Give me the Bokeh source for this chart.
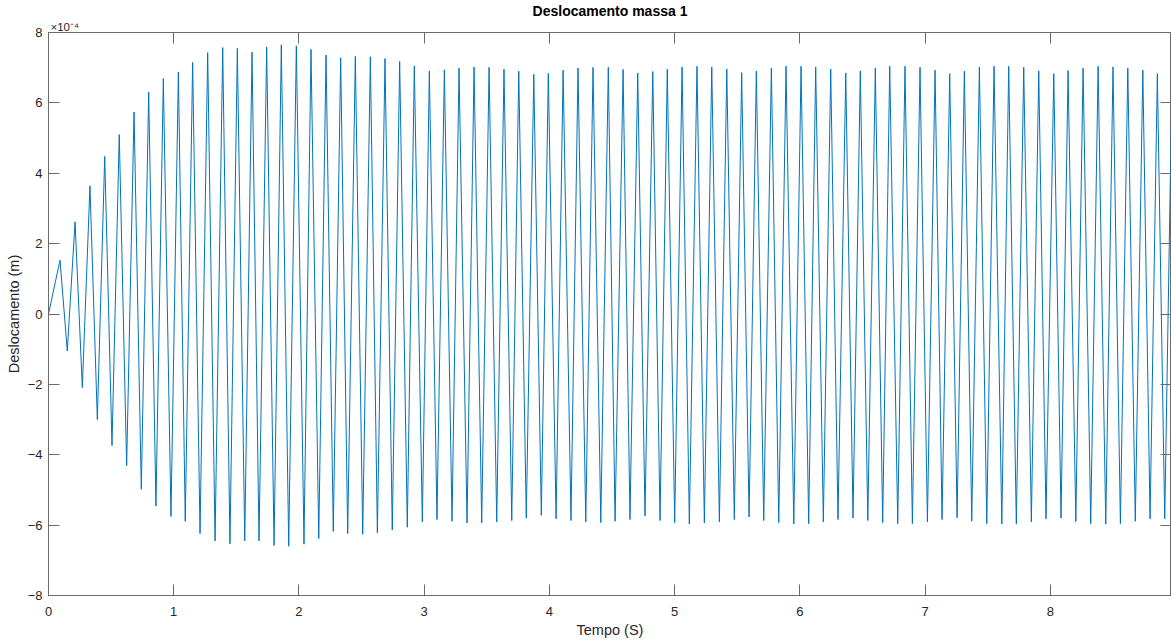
import numpy as np
from bokeh.plotting import figure
from bokeh.models import Range1d, LinearAxis, FixedTicker, ColumnDataSource, Title
from bokeh.embed import file_html
from bokeh.resources import INLINE

# ---------------- data (displacement in units of 1e-4 m) ----------------
title_text = "Deslocamento massa 1"
x_label = "Tempo (S)"
y_label = "Deslocamento (m)"
x_ticks = [0, 1, 2, 3, 4, 5, 6, 7, 8]
y_ticks = [-8, -6, -4, -2, 0, 2, 4, 6, 8]
y_scale_text = "\u00d710\u207b\u2074"   # x10^-4

start_t = [0.0]
start_v = [0.0]

peak_t = [0.092, 0.212, 0.331, 0.449, 0.565, 0.683, 0.800, 0.917, 1.037, 1.151,
          1.271, 1.391, 1.508, 1.625, 1.742, 1.859, 1.979, 2.096, 2.216, 2.333,
          2.450, 2.570, 2.687, 2.804, 2.921, 3.041, 3.161, 3.278, 3.398, 3.518,
          3.637, 3.755, 3.875, 3.991, 4.109, 4.228, 4.348, 4.470, 4.588, 4.705,
          4.825, 4.941, 5.059, 5.178, 5.296, 5.416, 5.535, 5.652, 5.772, 5.889,
          6.009, 6.126, 6.246, 6.366, 6.482, 6.602, 6.717, 6.839, 6.959, 7.079,
          7.196, 7.313, 7.433, 7.550, 7.667, 7.787, 7.907, 8.027, 8.141, 8.261,
          8.381, 8.500, 8.618, 8.738, 8.854, 8.972]
peak_v = [1.53, 2.62, 3.64, 4.48, 5.10, 5.74, 6.31, 6.69, 6.88, 7.15,
          7.43, 7.57, 7.55, 7.44, 7.59, 7.65, 7.62, 7.52, 7.36, 7.28,
          7.32, 7.31, 7.26, 7.18, 7.05, 6.91, 6.94, 6.99, 7.02, 7.01,
          6.96, 6.90, 6.81, 6.84, 6.93, 6.99, 7.01, 7.01, 6.95, 6.85,
          6.89, 6.96, 7.02, 7.04, 7.02, 6.96, 6.86, 6.90, 6.99, 7.04,
          7.04, 7.02, 6.96, 6.85, 6.91, 6.99, 7.04, 7.04, 7.01, 6.93,
          6.83, 6.90, 7.02, 7.04, 7.04, 7.01, 6.91, 6.83, 6.92, 6.99,
          7.04, 7.02, 6.99, 6.93, 6.83, 6.90]

trough_t = [0.150, 0.270, 0.390, 0.507, 0.624, 0.741, 0.858, 0.978, 1.092, 1.210,
            1.330, 1.449, 1.567, 1.681, 1.801, 1.918, 2.040, 2.158, 2.274, 2.389,
            2.509, 2.626, 2.745, 2.865, 2.985, 3.102, 3.222, 3.342, 3.459, 3.579,
            3.699, 3.815, 3.935, 4.053, 4.172, 4.290, 4.410, 4.524, 4.643, 4.763,
            4.883, 5.000, 5.117, 5.237, 5.357, 5.476, 5.594, 5.711, 5.831, 5.951,
            6.070, 6.187, 6.304, 6.424, 6.542, 6.661, 6.781, 6.898, 7.018, 7.135,
            7.255, 7.372, 7.492, 7.612, 7.728, 7.848, 7.965, 8.085, 8.203, 8.322,
            8.442, 8.559, 8.678, 8.796, 8.913]
trough_v = [-1.05, -2.09, -3.00, -3.74, -4.31, -4.98, -5.46, -5.75, -5.89, -6.24,
            -6.45, -6.53, -6.45, -6.45, -6.58, -6.60, -6.54, -6.38, -6.18, -6.24,
            -6.26, -6.22, -6.14, -6.06, -5.91, -5.84, -5.89, -5.94, -5.94, -5.91,
            -5.87, -5.80, -5.72, -5.82, -5.87, -5.91, -5.93, -5.89, -5.84, -5.74,
            -5.87, -5.93, -5.97, -5.94, -5.91, -5.84, -5.77, -5.87, -5.93, -5.97,
            -5.96, -5.91, -5.84, -5.80, -5.87, -5.93, -5.96, -5.96, -5.91, -5.84,
            -5.79, -5.89, -5.96, -5.97, -5.97, -5.91, -5.82, -5.80, -5.90, -5.96,
            -5.97, -5.96, -5.89, -5.82, -5.82]

# ---------------- build series ----------------
t_all = np.concatenate([start_t, peak_t, trough_t])
v_all = np.concatenate([start_v, peak_v, trough_v])
order = np.argsort(t_all)
src = ColumnDataSource(dict(t=t_all[order], v=v_all[order]))

FONT = "Liberation Sans"
AX = "#262626"
BOX = "#6b6b6b"

p = figure(width=1171, height=640, output_backend="svg", toolbar_location=None,
           x_range=Range1d(0, 8.967), y_range=Range1d(-8, 8),
           min_border_left=48, min_border_right=0, min_border_top=32, min_border_bottom=45)
p.background_fill_color = "white"
p.border_fill_color = "white"
p.outline_line_color = BOX
p.outline_line_width = 1
p.xgrid.visible = False
p.ygrid.visible = False

p.line("t", "v", source=src, line_color="#0072BD", line_width=1)

def style_axis(ax, ticks, labels=True):
    ax.ticker = FixedTicker(ticks=ticks)
    ax.axis_line_color = BOX
    ax.major_tick_line_color = BOX
    ax.major_tick_in = 11
    ax.major_tick_out = 0
    ax.minor_tick_line_color = None
    ax.major_label_text_font = FONT
    ax.major_label_text_color = AX
    if labels:
        ax.major_label_text_font_size = "13px"
    else:
        ax.major_label_text_font_size = "1px"
        ax.major_label_text_color = None
        ax.major_label_standoff = 0

xa = p.xaxis[0]
style_axis(xa, x_ticks)
xa.major_label_standoff = 11
xa.axis_label = x_label
xa.axis_label_text_font = FONT
xa.axis_label_text_font_size = "14.5px"
xa.axis_label_text_font_style = "normal"
xa.axis_label_text_color = AX
xa.axis_label_standoff = 3

ya = p.yaxis[0]
style_axis(ya, y_ticks)
ya.major_label_standoff = 6
ya.axis_label = y_label
ya.axis_label_text_font = FONT
ya.axis_label_text_font_size = "14.5px"
ya.axis_label_text_font_style = "normal"
ya.axis_label_text_color = AX
ya.axis_label_standoff = 3

top_ax = LinearAxis()
style_axis(top_ax, x_ticks, labels=False)
p.add_layout(top_ax, "above")

right_ax = LinearAxis()
style_axis(right_ax, y_ticks, labels=False)
p.add_layout(right_ax, "right")

# exponent marker (x10^-4) just above the top-left corner of the axes box
p.add_layout(Title(text=y_scale_text, align="left", offset=2, standoff=0,
                   text_font=FONT, text_font_size="11.5px", text_color=AX,
                   text_font_style="normal", text_line_height=1.0), "above")

# main title (outermost)
p.title.text = title_text
p.title.align = "center"
p.title.text_font = FONT
p.title.text_font_size = "14px"
p.title.text_font_style = "bold"
p.title.text_color = "#000000"
p.title.standoff = 0
p.title.text_line_height = 1.0

open("out.html", "w").write(file_html(p, INLINE))
